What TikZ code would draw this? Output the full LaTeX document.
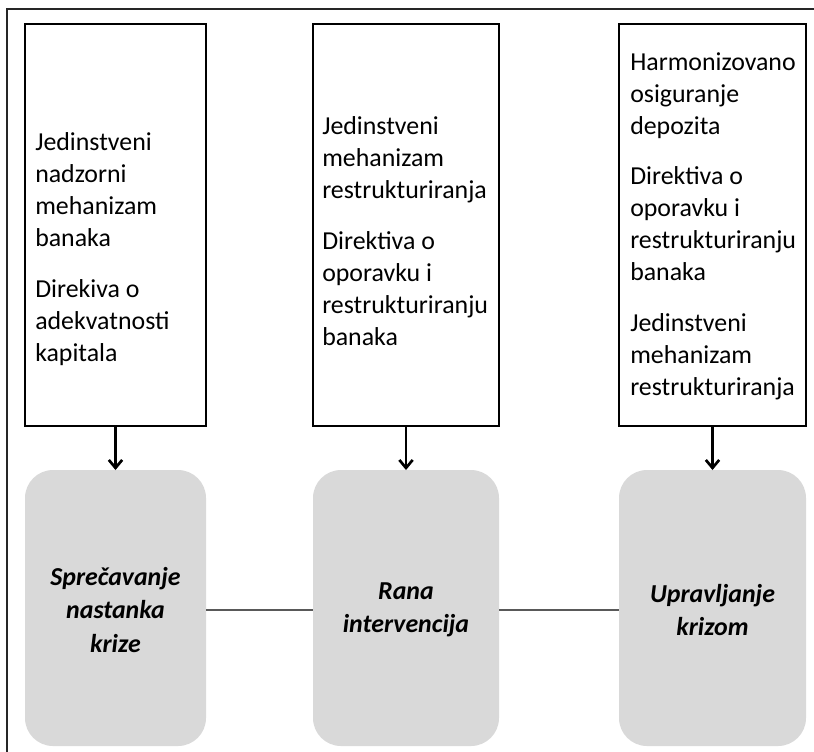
\documentclass[tikz,border=0pt]{standalone}
\usepackage{fontspec}
\setmainfont{Carlito}
\usetikzlibrary{arrows.meta}
\definecolor{boxgray}{HTML}{D9D9D9}
\definecolor{linegray}{HTML}{595959}
\begin{document}
\begin{tikzpicture}[x=0.75pt,y=-0.75pt,
  topbox/.style={draw=black,line width=2pt,fill=white},
  phase/.style={fill=boxgray,rounded corners=21pt},
  boxtext/.style={anchor=west,align=left,inner sep=0pt,font=\fontsize{19.4pt}{24pt}\selectfont},
  phasetext/.style={align=center,inner sep=0pt,font=\fontsize{19.4pt}{25pt}\selectfont\bfseries\itshape},
  arr/.style={line width=2pt,-{Straight Barb[length=6pt,width=10pt,line width=2pt]}},
  link/.style={draw=linegray,line width=1.3pt}]
\useasboundingbox (0,0) rectangle (814,751);
% outer frame
\draw[draw=black!85,line width=1.6pt] (7,760) -- (7,9) -- (820,9);
% top boxes
\draw[topbox] (25,24) rectangle (206,426);
\draw[topbox] (313,24) rectangle (499,426);
\draw[topbox] (619,24) rectangle (806,426);
\coordinate (b1) at (115.5,426);
\coordinate (b2) at (406,426);
\coordinate (b3) at (712.5,426);
\node[boxtext] (t1) at (35,249) {Jedinstveni\\nadzorni\\mehanizam\\banaka\\[14pt]Direkiva o\\adekvatnosti\\kapitala};
\node[boxtext] (t2) at (322,231) {Jedinstveni\\mehanizam\\restrukturiranja\\[14pt]Direktiva o\\oporavku i\\restrukturiranju\\banaka};
\node[boxtext] (t3) at (630,226) {Harmonizovano\\osiguranje\\depozita\\[14pt]Direktiva o\\oporavku i\\restrukturiranju\\banaka\\[14pt]Jedinstveni\\mehanizam\\restrukturiranja};
% phase boxes
\fill[phase] (25,470) rectangle (206,746);
\fill[phase] (313,470) rectangle (499,746);
\fill[phase] (619,470) rectangle (806,746);
\node[phasetext] (p1) at (115.5,610) {Sprečavanje\\nastanka\\krize};
\node[phasetext] (p2) at (406,610) {Rana\\intervencija};
\node[phasetext] (p3) at (712.5,610) {Upravljanje\\krizom};
\coordinate (g1) at (115.5,470);
\coordinate (g2) at (406,470);
\coordinate (g3) at (712.5,470);
\draw[arr] (b1) -- (g1);
\draw[arr] (b2) -- (g2);
\draw[arr] (b3) -- (g3);
\draw[link] (206,610) -- (313,610);
\draw[link] (499,610) -- (619,610);
\end{tikzpicture}
\end{document}
